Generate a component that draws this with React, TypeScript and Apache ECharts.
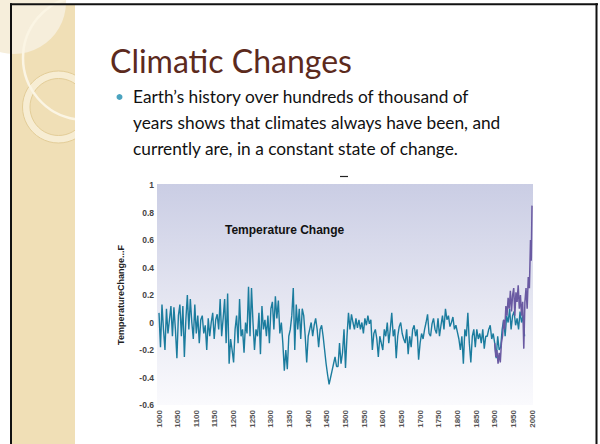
import React, { useEffect, useRef } from "react";
import * as echarts from "echarts";

// Proxy reconstruction (teal), one value every 4 years from 1000
const proxyStartYear = 1000;
const proxyStepYears = 4;
const proxyValues = [
  0.07, -0.18, 0.13, -0.05, -0.2, 0.1, -0.08, 0.02, 0.12, -0.1,
  0.11, -0.05, -0.26, 0.05, 0.13, -0.1, 0.12, -0.25, 0.02, 0.2,
  -0.05, 0.17, 0.0, -0.12, 0.13, -0.08, 0.05, -0.15, 0.02, 0.05,
  -0.08, -0.02, -0.2, 0.03, -0.1, 0.0, 0.07, -0.12, 0.02, 0.06,
  -0.05, 0.17, -0.1, 0.03, 0.17, -0.15, 0.21, -0.3, -0.12, -0.2,
  -0.29, -0.05, 0.05, -0.15, 0.17, -0.1, -0.05, -0.22, 0.0, -0.08,
  0.26, -0.1, 0.25, 0.0, -0.2, -0.05, -0.1, 0.07, -0.23, 0.12,
  -0.05, 0.02, -0.1, 0.05, -0.15, 0.1, 0.15, -0.05, 0.19, 0.03,
  0.16, -0.08, 0.0, -0.15, -0.35, -0.2, -0.34, -0.1, -0.05, 0.05,
  0.25, -0.2, 0.13, -0.05, 0.1, -0.12, 0.1, 0.05, -0.1, -0.29,
  -0.1, -0.05, 0.0, -0.1, -0.02, 0.03, -0.05, -0.18, -0.05, -0.02,
  -0.1, -0.2, -0.3, -0.38, -0.45, -0.4, -0.35, -0.3, -0.25, -0.32,
  -0.32, -0.15, -0.3, -0.22, -0.05, -0.33, -0.1, 0.07, -0.05, 0.06,
  0.0, -0.05, 0.03, -0.04, 0.02, -0.05, 0.0, -0.08, 0.03, -0.02,
  0.05, -0.01, 0.02, -0.2, -0.08, -0.05, -0.12, -0.25, -0.1, -0.15,
  -0.2, -0.05, -0.1, 0.0, -0.15, -0.05, 0.07, -0.1, -0.05, -0.26,
  -0.1, -0.03, 0.0, -0.08, -0.12, -0.15, -0.05, -0.23, -0.1, -0.18,
  -0.05, -0.02, -0.1, -0.05, -0.27, -0.15, -0.08, -0.12, -0.05, 0.0,
  0.06, -0.08, -0.1, -0.01, 0.03, -0.05, -0.08, 0.03, -0.1, -0.02,
  0.05, -0.05, 0.1, 0.02, 0.05, -0.03, 0.0, 0.04, -0.05, -0.02,
  -0.07, -0.12, -0.2, -0.1, -0.3, -0.05, -0.1, 0.07, -0.15, -0.29,
  -0.1, -0.05, -0.18, -0.05, -0.12, -0.08, -0.15, -0.05, -0.19, -0.1,
  -0.1, -0.05, -0.02, -0.12, -0.08, -0.15, -0.26, -0.1, -0.2, -0.18,
  -0.05, 0.02, -0.1, 0.05, 0.0, 0.1, -0.05, 0.05, 0.08, -0.02,
  0.03, -0.05, 0.08, 0.0, 0.05, -0.1,
];

// Instrumental record (purple)
const instrumentYears = [
  1900, 1903, 1906, 1909, 1912, 1915, 1918, 1921, 1924, 1927, 1930, 1933,
  1936, 1939, 1942, 1945, 1948, 1951, 1954, 1957, 1960, 1963, 1966, 1969,
  1972, 1975, 1978, 1981, 1984, 1987, 1990, 1993, 1996, 1998, 2000,
];
const instrumentValues = [
  -0.15, -0.25, -0.2, -0.3, -0.22, -0.29, -0.15, -0.1, 0.02, -0.05, 0.12, 0.05,
  0.18, 0.1, 0.23, 0.08, 0.2, 0.25, 0.05, 0.22, 0.15, 0.27, 0.1, 0.2,
  0.05, 0.15, -0.19, 0.15, 0.25, 0.1, 0.33, 0.25, 0.6, 0.45, 0.85,
];

const xMin = 1000;
const xMax = 2000;
const xInterval = 50;
const yMin = -0.6;
const yMax = 1;
const yInterval = 0.2;

const slideTitle = "Climatic Changes";
const bulletLines = [
  "Earth\u2019s history over hundreds of thousand of",
  "years shows that climates always have been, and",
  "currently are, in a constant state of change.",
];
const chartTitle = "Temperature Change";
const yAxisName = "TemperatureChange...F";

export default function App() {
  const ref = useRef<HTMLDivElement>(null);

  useEffect(() => {
    if (!ref.current) return;
    const chart = echarts.init(ref.current, undefined, { renderer: "svg" });

    const proxyData = proxyValues.map((v, i) => [proxyStartYear + proxyStepYears * i, v]);
    const instrumentData = instrumentYears.map((y, i) => [y, instrumentValues[i]]);

    const slideFont = "Lato, 'Open Sans', sans-serif";
    const chartFont = "'Liberation Sans', Arial, sans-serif";

    const graphics: any[] = [
      // left beige band
      { type: "rect", shape: { x: 11, y: 4, width: 64, height: 440 }, style: { fill: "#f0dfb6" } },
      // lighter top-left patch
      { type: "circle", shape: { cx: 14, cy: 2, r: 52 }, style: { fill: "#f6eedb" } },
      // ring
      { type: "ring", shape: { cx: 58.5, cy: 107, r: 36, r0: 28.5 }, style: { fill: "#f7edd3", stroke: "#e3cd98", lineWidth: 1 } },
      // big arc
      {
        type: "arc",
        shape: { cx: 85, cy: 58, r: 62, startAngle: 1.72, endAngle: 4.56, clockwise: true },
        style: { stroke: "#fbf5e4", lineWidth: 2.5, fill: null },
      },
      // white content area (clips decorations)
      { type: "rect", shape: { x: 75, y: 4, width: 522, height: 440 }, style: { fill: "#ffffff" } },
      // slide border
      { type: "line", shape: { x1: 10, y1: 4.3, x2: 598, y2: 4.3 }, style: { stroke: "#111", lineWidth: 2 } },
      { type: "line", shape: { x1: 11, y1: 3.3, x2: 11, y2: 444 }, style: { stroke: "#111", lineWidth: 2 } },
      { type: "line", shape: { x1: 596.5, y1: 3.3, x2: 596.5, y2: 444 }, style: { stroke: "#111", lineWidth: 2 } },
      // slide title
      {
        type: "text",
        x: 110,
        y: 60.5,
        style: { text: slideTitle, fill: "#5c2a1d", font: `32px ${slideFont}`, textVerticalAlign: "middle" },
      },
      // bullet
      { type: "circle", shape: { cx: 119.5, cy: 97, r: 3 }, style: { fill: "#4aa3bf" } },
      ...bulletLines.map((t, i) => ({
        type: "text",
        x: 133,
        y: 96.5 + 26 * i,
        style: { text: t, fill: "#111", font: `17.3px ${slideFont}`, textVerticalAlign: "middle" },
      })),
      // plot background gradient
      {
        type: "rect",
        shape: { x: 157, y: 184, width: 376, height: 221 },
        style: {
          fill: new echarts.graphic.LinearGradient(0, 0, 0, 1, [
            { offset: 0, color: "#cacde4" },
            { offset: 0.55, color: "#e6e7f2" },
            { offset: 1, color: "#fafafd" },
          ]),
        },
      },
      // small dash at top of image
      { type: "line", shape: { x1: 340, y1: 176.5, x2: 348, y2: 176.5 }, style: { stroke: "#222", lineWidth: 1.2 } },
    ];

    chart.setOption({
      animation: false,
      backgroundColor: "#ffffff",
      title: {
        text: chartTitle,
        left: 220,
        top: 219,
        textStyle: { fontSize: 12, fontWeight: "bold", color: "#111", fontFamily: chartFont },
      },
      graphic: graphics,
      grid: { left: 159, right: 68, top: 185, bottom: 39, containLabel: false },
      xAxis: {
        type: "value",
        min: xMin,
        max: xMax,
        interval: xInterval,
        axisLine: { show: false },
        axisTick: { show: false },
        splitLine: { show: false },
        axisLabel: {
          rotate: 90,
          fontSize: 8,
          fontWeight: "bold",
          color: "#555",
          margin: 5,
          fontFamily: chartFont,
          formatter: (v: number) => String(v),
        },
      },
      yAxis: {
        type: "value",
        min: yMin,
        max: yMax,
        interval: yInterval,
        name: yAxisName,
        nameLocation: "middle",
        nameGap: 34,
        nameTextStyle: { fontSize: 9, fontWeight: "bold", color: "#222", fontFamily: chartFont },
        axisLine: { show: false },
        axisTick: { show: false },
        splitLine: { show: false },
        axisLabel: {
          fontSize: 8.5,
          fontWeight: "bold",
          color: "#444",
          margin: 5,
          fontFamily: chartFont,
          formatter: (v: number) => String(Math.round(v * 10) / 10),
        },
      },
      series: [
        {
          type: "line",
          data: proxyData,
          showSymbol: false,
          lineStyle: { color: "#1b7c9e", width: 1.4 },
          z: 3,
        },
        {
          type: "line",
          data: instrumentData,
          showSymbol: false,
          lineStyle: { color: "#6a5aa2", width: 1.5 },
          z: 4,
        },
      ],
    });

    return () => chart.dispose();
  }, []);

  return <div ref={ref} style={{ position: "fixed", left: 0, top: 0, width: 600, height: 444 }} />;
}
